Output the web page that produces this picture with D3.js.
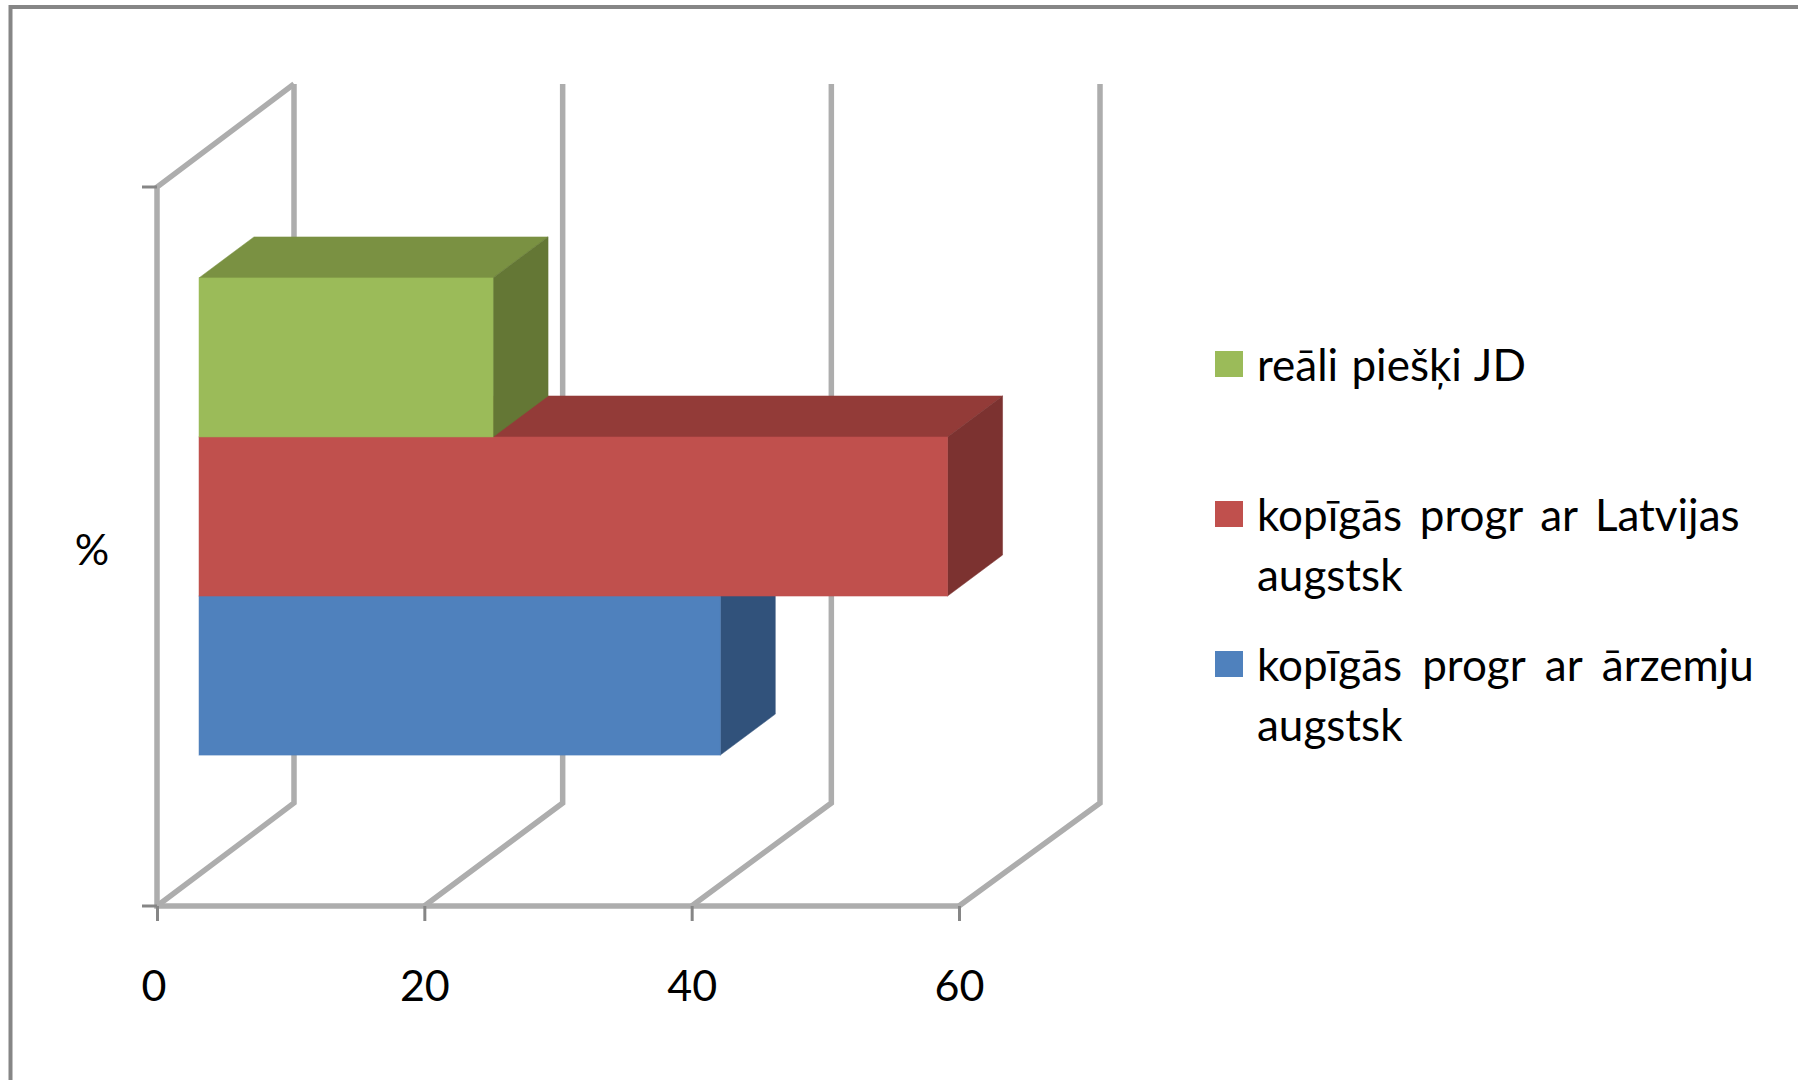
<!DOCTYPE html>
<html>
<head>
<meta charset="utf-8">
<script src="https://cdn.jsdelivr.net/npm/d3@7/dist/d3.min.js"></script>
<style>
html, body { margin: 0; padding: 0; background: #fff; overflow: hidden; }
svg { display: block; }
text { font-family: Lato, "Open Sans", sans-serif; fill: #000; }
</style>
</head>
<body>
<svg id="chart" width="1798" height="1080"></svg>
<script>
// Series values in percent, drawn bottom to top
const seriesNames = ["kopīgās progr ar ārzemju augstsk", "kopīgās progr ar Latvijas augstsk", "reāli piešķi JD"];
const seriesValues = [39, 56, 22];
const frontColors = ["#4F81BD", "#C0504D", "#9BBB59"];
const topColors = ["#3F6797", "#933B38", "#7A9142"];
const sideColors = ["#31527B", "#7C3230", "#647735"];
const xTicks = [0, 20, 40, 60];
const categoryLabel = "%";
const legendLines = [["reāli piešķi JD"], ["kopīgās progr ar Latvijas", "augstsk"], ["kopīgās progr ar ārzemju", "augstsk"]];
const legendColors = ["#9BBB59", "#C0504D", "#4F81BD"];
const legendWordGaps = [[2], [6.5, 0], [8.8, 0]];

const width = 1798, height = 1080;
const wallTop = 187, floorY = 906;
const backRise = -103;                     // vertical offset of the back wall
const barInset = { dx: 42, dy: -30 };      // bars stand this far behind the front plane
const barDepth = { dx: 55, dy: -41 };      // thickness of each bar

const svg = d3.select("#chart");

// Outer frame, open on the right and at the bottom
svg.append("path").attr("d", d3.line()([[10.5, height], [10.5, 7], [width, 7]]))
  .attr("fill", "none").attr("stroke", "#868686").attr("stroke-width", 4);

const x = d3.scaleLinear().domain([0, 60]).range([157, 959]);
const xBack = d3.scaleLinear().domain([0, 60]).range([294, 1100]);
const y = d3.scaleBand().domain(seriesNames).range([floorY, wallTop]).paddingInner(0).paddingOuter(0.76);

// Walls: back gridlines, floor diagonals, left edge
const grid = svg.append("g").attr("fill", "none").attr("stroke", "#adadad").attr("stroke-width", 5.5);
xTicks.forEach(t => {
  grid.append("path").attr("d", d3.line()([
    [x(t), floorY], [xBack(t), floorY + backRise], [xBack(t), wallTop + backRise]
  ]));
});
grid.append("path").attr("d", d3.line()([
  [xBack(0), wallTop + backRise], [x(0), wallTop], [x(0), floorY], [x(60), floorY]
]));

// Bars as oblique boxes: top and side faces first, then the front face
const bars = svg.append("g").selectAll("g").data(seriesNames).join("g");
bars.each(function (name, i) {
  const g = d3.select(this);
  const x0 = x(0) + barInset.dx, x1 = x(seriesValues[i]) + barInset.dx;
  const yTop = y(name) + barInset.dy, yBot = yTop + y.bandwidth();
  const { dx, dy } = barDepth;
  const poly = pts => d3.line()(pts) + "Z";
  g.append("path").attr("fill", topColors[i]).attr("stroke", topColors[i]).attr("stroke-opacity", 0.5)
    .attr("d", poly([[x0, yTop], [x1, yTop], [x1 + dx, yTop + dy], [x0 + dx, yTop + dy]]));
  g.append("path").attr("fill", sideColors[i]).attr("stroke", sideColors[i]).attr("stroke-opacity", 0.5)
    .attr("d", poly([[x1, yTop], [x1 + dx, yTop + dy], [x1 + dx, yBot + dy], [x1, yBot]]));
  g.append("rect").attr("fill", frontColors[i]).attr("stroke", frontColors[i]).attr("stroke-opacity", 0.5)
    .attr("x", x0).attr("y", yTop).attr("width", x1 - x0).attr("height", yBot - yTop);
});

// Value axis with ticks and labels
const xAxis = svg.append("g").attr("transform", `translate(0,${floorY})`)
  .call(d3.axisBottom(x).tickValues(xTicks).tickSize(15).tickPadding(49));
xAxis.select(".domain").remove();
xAxis.selectAll("line").attr("stroke", "#868686").attr("stroke-width", 3);
xAxis.selectAll("text").attr("font-size", 43).style("font-family", "Lato").attr("fill", "#000")
  .attr("dx", d => d === 0 ? -3.5 : 0);

// Category axis ticks at the wall ends
const yTickPositions = [wallTop, floorY];
svg.append("g").selectAll("line").data(yTickPositions).join("line")
  .attr("x1", x(0) - 15).attr("x2", x(0)).attr("y1", d => d).attr("y2", d => d)
  .attr("stroke", "#868686").attr("stroke-width", 3);

svg.append("text").attr("x", 92).attr("y", 565).attr("text-anchor", "middle")
  .attr("font-size", 43).text(categoryLabel);

// Legend
const legendY = [351, 501, 651];
const legend = svg.append("g");
legendLines.forEach((lines, i) => {
  legend.append("rect").attr("x", 1215).attr("y", legendY[i]).attr("width", 28).attr("height", 26)
    .attr("fill", legendColors[i]);
  lines.forEach((line, j) => {
    legend.append("text").attr("x", 1257).attr("y", legendY[i] + 30 + j * 59.5)
      .attr("font-size", 44).attr("word-spacing", legendWordGaps[i][j]).text(line);
  });
});
</script>
</body>
</html>
